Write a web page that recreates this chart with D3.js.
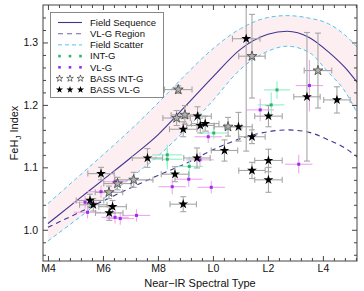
<!DOCTYPE html>
<html><head><meta charset="utf-8">
<script src="https://cdn.jsdelivr.net/npm/d3@7"></script>
<style>
body{margin:0;background:#fff}
svg{display:block}
text{font-family:"Liberation Sans",Arial,Helvetica,sans-serif;fill:#111}
</style>
</head><body>
<svg id="c" width="364" height="291"></svg>
<script>
// ---------- data ----------
const xTickValues = [4, 6, 8, 10, 12, 14];
const xTickLabels = ["M4", "M6", "M8", "L0", "L2", "L4"];
const yTickValues = [1.0, 1.1, 1.2, 1.3];
const yTickLabels = ["1.0", "1.1", "1.2", "1.3"];

const curveSpT   = [4, 5, 6, 7, 8, 9, 10, 11, 12, 12.7, 13.5, 14.2, 14.8, 15.3];
const fieldSeq   = [1.010, 1.045, 1.080, 1.115, 1.152, 1.198, 1.245, 1.289, 1.313, 1.318, 1.308, 1.285, 1.260, 1.233];
const fieldUpper = [1.042, 1.081, 1.120, 1.160, 1.203, 1.248, 1.290, 1.322, 1.340, 1.343, 1.339, 1.330, 1.312, 1.290];
const fieldLower = [0.982, 1.015, 1.049, 1.083, 1.118, 1.160, 1.207, 1.257, 1.286, 1.294, 1.284, 1.252, 1.222, 1.182];
const vlgRegion  = [1.004, 1.025, 1.046, 1.067, 1.087, 1.106, 1.128, 1.146, 1.157, 1.160, 1.156, 1.144, 1.131, 1.115];

const vlgSpT    = [5.35, 5.44, 5.93, 6.44, 6.44, 6.63, 7.22, 8.52, 9.12, 9.53, 9.83, 9.94, 11.72, 13.51, 13.12];
const vlgFeH    = [1.044, 1.028, 1.061, 1.077, 1.020, 1.018, 1.023, 1.069, 1.081, 1.112, 1.149, 1.068, 1.192, 1.231, 1.105];
const vlgSpTErr = [0.45, 0.5, 0.5, 0.45, 0.5, 0.5, 0.5, 0.5, 0.5, 0.5, 0.5, 0.5, 0.5, 0.5, 0.5];
const vlgFeHErr = [0.010, 0.010, 0.010, 0.010, 0.010, 0.010, 0.010, 0.012, 0.012, 0.012, 0.010, 0.010, 0.018, 0.041, 0.015];

const intgSpT    = [8.34, 8.34, 9.14, 10.03, 12.33, 12.12];
const intgFeH    = [1.120, 1.113, 1.1015, 1.155, 1.224, 1.200];
const intgSpTErr = [0.55, 0.55, 0.5, 0.5, 0.48, 0.48];
const intgFeHErr = [0.016, 0.016, 0.016, 0.010, 0.014, 0.020];

const bassIntgSpT    = [6.22, 6.53, 7.12, 8.74, 8.68, 8.98, 10.55, 11.42, 13.82];
const bassIntgFeH    = [1.060, 1.074, 1.080, 1.2245, 1.179, 1.184, 1.165, 1.278, 1.255];
const bassIntgSpTErr = [0.5, 0.5, 0.7, 0.5, 0.5, 0.5, 0.5, 0.48, 0.5];
const bassIntgFeHErr = [0.010, 0.010, 0.012, 0.006, 0.012, 0.015, 0.015, 0.067, 0.060];

const bassVlgSpT    = [5.93, 5.53, 5.65, 6.35, 6.23, 7.62, 8.62, 8.92, 8.92, 9.42, 9.44, 9.54, 9.72, 10.42, 10.93, 11.42, 11.42, 11.21, 12.02, 12.02, 12.02, 13.42, 14.51];
const bassVlgFeH    = [1.090, 1.047, 1.040, 1.037, 1.027, 1.115, 1.089, 1.041, 1.161, 1.115, 1.182, 1.167, 1.170, 1.127, 1.165, 1.149, 1.095, 1.306, 1.182, 1.111, 1.080, 1.213, 1.208];
const bassVlgSpTErr = [0.48, 0.5, 0.5, 0.5, 0.5, 0.55, 0.5, 0.48, 0.5, 0.48, 0.5, 0.5, 0.5, 0.48, 0.5, 0.48, 0.48, 0.5, 0.5, 0.5, 0.5, 0.48, 0.48];
const bassVlgFeHErr = [0.010, 0.010, 0.010, 0.010, 0.012, 0.015, 0.012, 0.012, 0.012, 0.016, 0.015, 0.012, 0.012, 0.017, 0.023, 0.011, 0.013, 0.180, 0.017, 0.018, 0.020, 0.103, 0.021];

const legendLabels = ["Field Sequence", "VL-G Region", "Field Scatter", "INT-G", "VL-G", "BASS INT-G", "BASS VL-G"];

// ---------- layout ----------
const L = 43, R = 357, T = 5, B = 261;
const x = d3.scaleLinear().domain([3.82, 15.24]).range([L, R]);
const y = d3.scaleLinear().domain([0.95, 1.36]).range([B, T]);

const C = {
  seq: "#3f3590",
  scatter: "#4fc6ee",
  band: "#fdeef1",
  intg: "#2fb36e",
  intgErr: "#8ff0c8",
  vlg: "#9a2eea",
  vlgErr: "#f0a6f0",
  bassErr: "#a6a6a6",
  frame: "#444"
};

const svg = d3.select("#c");
svg.append("defs").append("clipPath").attr("id", "clip")
  .append("rect").attr("x", L).attr("y", T).attr("width", R - L).attr("height", B - T);

const plot = svg.append("g").attr("clip-path", "url(#clip)");

const zipC = a => curveSpT.map((s, i) => [s, a[i]]);

// band
plot.append("path")
  .datum(curveSpT.map((s, i) => ({s, lo: fieldLower[i], hi: fieldUpper[i]})))
  .attr("fill", C.band)
  .attr("d", d3.area().x(d => x(d.s)).y0(d => y(d.lo)).y1(d => y(d.hi)).curve(d3.curveMonotoneX));

const line = d3.line().x(d => x(d[0])).y(d => y(d[1])).curve(d3.curveMonotoneX);
plot.append("path").datum(zipC(fieldUpper)).attr("d", line).attr("fill", "none")
  .attr("stroke", C.scatter).attr("stroke-width", 1).attr("stroke-dasharray", "4,3");
plot.append("path").datum(zipC(fieldLower)).attr("d", line).attr("fill", "none")
  .attr("stroke", C.scatter).attr("stroke-width", 1).attr("stroke-dasharray", "4,3");
plot.append("path").datum(zipC(fieldSeq)).attr("d", line).attr("fill", "none")
  .attr("stroke", C.seq).attr("stroke-width", 1.1);
plot.append("path").datum(zipC(vlgRegion)).attr("d", line).attr("fill", "none")
  .attr("stroke", C.seq).attr("stroke-width", 1.1).attr("stroke-dasharray", "5,4");

// error bars
function errBars(g, xs, ys, xe, ye, color, cap) {
  const d = xs.map((s, i) => ({s, v: ys[i], xe: xe[i], ye: ye[i]}));
  const gg = g.append("g").attr("stroke", color).attr("stroke-width", 1.1).attr("fill", "none");
  gg.selectAll(".h").data(d).join("line")
    .attr("x1", e => x(e.s - e.xe)).attr("x2", e => x(e.s + e.xe))
    .attr("y1", e => y(e.v)).attr("y2", e => y(e.v));
  gg.selectAll(".v").data(d).join("line")
    .attr("x1", e => x(e.s)).attr("x2", e => x(e.s))
    .attr("y1", e => y(e.v - e.ye)).attr("y2", e => y(e.v + e.ye));
  if (cap) {
    d.forEach(e => {
      [e.s - e.xe, e.s + e.xe].forEach(s => gg.append("line")
        .attr("x1", x(s)).attr("x2", x(s)).attr("y1", y(e.v) - cap).attr("y2", y(e.v) + cap));
      [e.v - e.ye, e.v + e.ye].forEach(v => gg.append("line")
        .attr("x1", x(e.s) - cap).attr("x2", x(e.s) + cap).attr("y1", y(v)).attr("y2", y(v)));
    });
  }
}
errBars(plot, vlgSpT, vlgFeH, vlgSpTErr, vlgFeHErr, C.vlgErr, 0);
errBars(plot, intgSpT, intgFeH, intgSpTErr, intgFeHErr, C.intgErr, 0);
errBars(plot, bassIntgSpT, bassIntgFeH, bassIntgSpTErr, bassIntgFeHErr, C.bassErr, 3);
errBars(plot, bassVlgSpT, bassVlgFeH, bassVlgSpTErr, bassVlgFeHErr, C.bassErr, 3);

// points
function dots(xs, ys, color) {
  plot.append("g").selectAll("rect").data(xs.map((s, i) => [s, ys[i]])).join("rect")
    .attr("x", d => x(d[0]) - 1.5).attr("y", d => y(d[1]) - 1.5)
    .attr("width", 3).attr("height", 3).attr("fill", color);
}
dots(vlgSpT, vlgFeH, C.vlg);
dots(intgSpT, intgFeH, C.intg);

const starBig = d3.symbol().type(d3.symbolStar).size(30);
plot.append("g").selectAll("path").data(bassIntgSpT.map((s, i) => [s, bassIntgFeH[i]])).join("path")
  .attr("d", starBig).attr("transform", d => `translate(${x(d[0])},${y(d[1])})`)
  .attr("fill", "#b0b0b0").attr("stroke", "#333").attr("stroke-width", 0.7);
plot.append("g").selectAll("path").data(bassVlgSpT.map((s, i) => [s, bassVlgFeH[i]])).join("path")
  .attr("d", starBig).attr("transform", d => `translate(${x(d[0])},${y(d[1])})`)
  .attr("fill", "#000");

// ---------- axes ----------
const minorX = d3.range(4.4, 15.24, 0.4).filter(v => Math.abs(v / 2 - Math.round(v / 2)) > 0.05);
const minorY = d3.range(0.96, 1.355, 0.02).filter(v => Math.abs(v * 10 - Math.round(v * 10)) > 0.05);

function styleAxis(g) {
  g.select(".domain").remove();
  g.selectAll("line").attr("stroke", C.frame);
  g.selectAll("text").attr("font-size", 10.5).attr("fill", "#111")
    .attr("font-family", "'Liberation Sans',Arial,sans-serif");
}
svg.append("g").attr("transform", `translate(0,${B})`)
  .call(d3.axisBottom(x).tickValues(xTickValues).tickFormat((d, i) => xTickLabels[i]).tickSize(-5).tickPadding(4)).call(styleAxis);
svg.append("g").attr("transform", `translate(0,${B})`)
  .call(d3.axisBottom(x).tickValues(minorX).tickFormat("").tickSize(-3)).call(styleAxis);
svg.append("g").attr("transform", `translate(0,${T})`)
  .call(d3.axisTop(x).tickValues(xTickValues).tickFormat("").tickSize(-5)).call(styleAxis);
svg.append("g").attr("transform", `translate(0,${T})`)
  .call(d3.axisTop(x).tickValues(minorX).tickFormat("").tickSize(-3)).call(styleAxis);
svg.append("g").attr("transform", `translate(${L},0)`)
  .call(d3.axisLeft(y).tickValues(yTickValues).tickFormat((d, i) => yTickLabels[i]).tickSize(-5).tickPadding(5)).call(styleAxis);
svg.append("g").attr("transform", `translate(${L},0)`)
  .call(d3.axisLeft(y).tickValues(minorY).tickFormat("").tickSize(-3)).call(styleAxis);
svg.append("g").attr("transform", `translate(${R},0)`)
  .call(d3.axisRight(y).tickValues(yTickValues).tickFormat("").tickSize(-5)).call(styleAxis);
svg.append("g").attr("transform", `translate(${R},0)`)
  .call(d3.axisRight(y).tickValues(minorY).tickFormat("").tickSize(-3)).call(styleAxis);

svg.append("rect").attr("x", L).attr("y", T).attr("width", R - L).attr("height", B - T)
  .attr("fill", "none").attr("stroke", C.frame).attr("stroke-width", 1);

// titles
svg.append("text").attr("x", (L + R) / 2).attr("y", 287).attr("text-anchor", "middle")
  .attr("font-size", 11).text("Near\u2212IR Spectral Type");
const yt = svg.append("text").attr("transform", `translate(18,${(T + B) / 2}) rotate(-90)`)
  .attr("text-anchor", "middle").attr("font-size", 11);
yt.append("tspan").text("FeH");
yt.append("tspan").attr("font-size", 8).attr("dy", 3).text("J");
yt.append("tspan").attr("dy", -3).text(" Index");

// ---------- legend ----------
const lg = svg.append("g");
lg.append("rect").attr("x", 50.5).attr("y", 12.5).attr("width", 113).attr("height", 85)
  .attr("fill", "#fff").attr("stroke", "#888").attr("stroke-width", 1);
const rowY = legendLabels.map((_, i) => 22.5 + i * 11.2);
lg.selectAll("text").data(legendLabels).join("text")
  .attr("x", 90).attr("y", (d, i) => rowY[i] + 3.3).attr("font-size", 9.5).text(d => d);
lg.append("line").attr("x1", 58).attr("x2", 82).attr("y1", rowY[0]).attr("y2", rowY[0])
  .attr("stroke", C.seq).attr("stroke-width", 1.1);
lg.append("line").attr("x1", 58).attr("x2", 82).attr("y1", rowY[1]).attr("y2", rowY[1])
  .attr("stroke", "#6d63b0").attr("stroke-width", 1.1).attr("stroke-dasharray", "5,4");
lg.append("line").attr("x1", 58).attr("x2", 82).attr("y1", rowY[2]).attr("y2", rowY[2])
  .attr("stroke", C.scatter).attr("stroke-width", 1).attr("stroke-dasharray", "4,3");
const mx = [59.5, 70, 80.5];
mx.forEach(xx => {
  lg.append("rect").attr("x", xx - 1.3).attr("y", rowY[3] - 1.3).attr("width", 2.6).attr("height", 2.6).attr("fill", C.intg);
  lg.append("rect").attr("x", xx - 1.3).attr("y", rowY[4] - 1.3).attr("width", 2.6).attr("height", 2.6).attr("fill", C.vlg);
  lg.append("path").attr("d", d3.symbol().type(d3.symbolStar).size(14)).attr("transform", `translate(${xx},${rowY[5]})`)
    .attr("fill", "none").attr("stroke", "#222").attr("stroke-width", 0.6);
  lg.append("path").attr("d", d3.symbol().type(d3.symbolStar).size(16)).attr("transform", `translate(${xx},${rowY[6]})`)
    .attr("fill", "#000");
});
</script>
</body></html>
